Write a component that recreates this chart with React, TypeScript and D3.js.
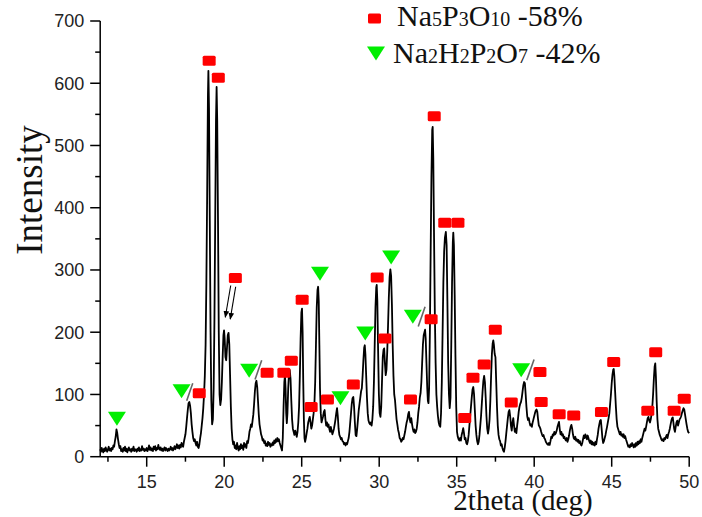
import React from "react";
import * as d3 from "d3";

const W = 702;
const H = 517;

const xTicks = [15, 20, 25, 30, 35, 40, 45, 50];
const xMinor = [12.5, 17.5, 22.5, 27.5, 32.5, 37.5, 42.5, 47.5];
const yTicks = [0, 100, 200, 300, 400, 500, 600, 700];
const yMinor = [50, 150, 250, 350, 450, 550, 650];

// XRD pattern: [2theta, intensity]
const pattern: [number, number][] = [
  [12.0,12],[12.05,8],[12.1,14],[12.15,10],[12.2,7],[12.25,13],[12.3,9],[12.35,15],[12.4,11],[12.45,8],[12.5,12],[12.55,16],[12.6,10],[12.65,13],[12.7,9],[12.75,14],[12.8,12],[12.85,18],[12.9,16],[12.95,25],[13.0,32],[13.05,44],[13.1,38],[13.15,28],[13.2,20],[13.25,14],[13.3,17],[13.35,9],[13.4,12],[13.45,8],[13.5,14],[13.55,10],[13.6,16],[13.65,9],[13.7,13],[13.75,7],[13.8,11],[13.85,15],[13.9,10],[13.95,12],
  [14.0,8],[14.05,13],[14.1,10],[14.15,16],[14.2,9],[14.25,12],[14.3,11],[14.35,8],[14.4,13],[14.45,10],[14.5,15],[14.55,9],[14.6,12],[14.65,10],[14.7,17],[14.75,11],[14.8,13],[14.85,9],[14.9,12],[14.95,10],[15.0,14],[15.05,9],[15.1,12],[15.15,18],[15.2,11],[15.25,15],[15.3,10],[15.35,13],[15.4,9],[15.45,16],[15.5,12],[15.55,17],[15.6,10],[15.65,14],[15.7,12],[15.75,19],[15.8,13],[15.85,11],[15.9,15],[15.95,10],
  [16.0,13],[16.05,9],[16.1,12],[16.15,15],[16.2,10],[16.25,14],[16.3,11],[16.35,9],[16.4,13],[16.45,10],[16.5,12],[16.55,16],[16.6,11],[16.65,14],[16.7,10],[16.75,13],[16.8,17],[16.85,12],[16.9,15],[16.95,20],[17.0,14],[17.05,18],[17.1,13],[17.15,19],[17.2,15],[17.25,22],[17.3,18],[17.35,16],[17.4,24],[17.45,30],[17.5,36],[17.55,48],[17.6,62],[17.65,75],[17.7,86],[17.75,88],[17.8,82],[17.85,70],[17.9,52],[17.95,40],
  [18.0,30],[18.05,25],[18.1,28],[18.15,22],[18.2,18],[18.25,24],[18.3,16],[18.35,14],[18.4,20],[18.45,30],[18.5,38],[18.55,50],[18.6,62],[18.65,78],[18.7,100],[18.75,130],[18.8,180],[18.85,280],[18.9,420],[18.95,580],[18.98,620],[19.02,560],[19.07,380],[19.12,200],[19.17,90],[19.22,52],[19.27,60],[19.32,110],[19.37,220],[19.42,380],[19.47,540],[19.51,594],[19.55,540],[19.6,380],[19.65,200],[19.7,100],[19.75,83],[19.8,92],[19.85,120],[19.9,160],[19.95,195],[19.99,203],
  [20.03,190],[20.08,160],[20.13,155],[20.18,175],[20.23,195],[20.28,199],[20.33,180],[20.38,130],[20.43,80],[20.48,45],[20.53,28],[20.58,20],[20.63,24],[20.68,14],[20.73,18],[20.78,12],[20.83,22],[20.88,15],[20.93,10],[20.98,17],[21.03,12],[21.08,20],[21.13,14],[21.18,18],[21.23,11],[21.28,22],[21.33,16],[21.38,20],[21.43,14],[21.48,25],[21.53,22],[21.58,30],[21.63,40],[21.68,45],[21.73,52],[21.78,48],[21.83,58],[21.88,68],[21.93,85],[21.98,105],
  [22.03,118],[22.08,122],[22.13,112],[22.18,90],[22.23,68],[22.28,52],[22.33,44],[22.38,36],[22.43,32],[22.48,26],[22.53,28],[22.58,22],[22.63,25],[22.68,18],[22.73,21],[22.78,17],[22.83,24],[22.88,19],[22.93,22],[22.98,16],[23.03,20],[23.08,18],[23.13,23],[23.18,19],[23.23,26],[23.28,22],[23.33,28],[23.38,24],[23.43,30],[23.48,25],[23.53,28],[23.58,22],[23.63,18],[23.68,14],[23.73,10],[23.78,30],[23.83,80],[23.88,120],[23.92,131],[23.96,110],
  [24.0,70],[24.04,54],[24.08,70],[24.13,110],[24.18,135],[24.23,139],[24.28,125],[24.33,90],[24.38,60],[24.43,45],[24.48,40],[24.53,35],[24.58,42],[24.63,38],[24.68,32],[24.73,40],[24.78,55],[24.83,80],[24.88,130],[24.93,190],[24.98,232],[25.02,238],[25.06,200],[25.1,120],[25.14,60],[25.18,30],[25.22,24],[25.27,30],[25.32,38],[25.37,45],[25.42,55],[25.47,60],[25.52,64],[25.57,55],[25.62,45],[25.67,50],[25.72,60],[25.77,70],[25.82,85],[25.87,120],[25.92,180],[25.97,240],
  [26.02,268],[26.06,273],[26.1,250],[26.14,180],[26.18,110],[26.23,70],[26.28,55],[26.33,60],[26.38,65],[26.43,72],[26.48,75],[26.53,60],[26.58,50],[26.63,55],[26.68,48],[26.73,52],[26.78,45],[26.83,40],[26.88,48],[26.93,42],[26.98,36],[27.03,40],[27.08,45],[27.13,52],[27.18,60],[27.23,70],[27.28,78],[27.33,65],[27.38,45],[27.43,35],[27.48,32],[27.53,28],[27.58,30],[27.63,25],[27.68,24],[27.73,20],[27.78,22],[27.83,18],[27.88,22],[27.93,20],[27.98,25],
  [28.03,30],[28.08,40],[28.13,55],[28.18,70],[28.23,85],[28.28,94],[28.33,96],[28.38,80],[28.43,55],[28.48,35],[28.53,33],[28.58,45],[28.63,60],[28.68,75],[28.73,85],[28.78,95],[28.83,105],[28.88,110],[28.93,130],[28.98,155],[29.03,175],[29.07,179],[29.11,165],[29.16,130],[29.21,95],[29.26,70],[29.31,58],[29.36,54],[29.41,52],[29.46,55],[29.51,50],[29.56,60],[29.61,80],[29.66,120],[29.71,180],[29.76,240],[29.81,272],[29.84,276],[29.88,250],[29.93,170],[29.98,100],
  [30.03,70],[30.08,64],[30.13,80],[30.18,120],[30.23,160],[30.28,172],[30.32,174],[30.37,150],[30.42,131],[30.47,140],[30.52,170],[30.57,210],[30.62,255],[30.67,288],[30.72,301],[30.77,290],[30.82,245],[30.87,180],[30.92,130],[30.97,100],[31.02,91],[31.07,75],[31.12,60],[31.17,52],[31.22,43],[31.27,38],[31.32,30],[31.37,28],[31.42,24],[31.47,26],[31.52,30],[31.57,28],[31.62,34],[31.67,40],[31.72,48],[31.77,55],[31.82,60],[31.87,68],[31.92,72],[31.97,60],
  [32.02,55],[32.07,62],[32.12,52],[32.17,45],[32.22,40],[32.27,44],[32.32,38],[32.37,40],[32.42,45],[32.47,55],[32.52,70],[32.57,80],[32.62,95],[32.67,102],[32.72,120],[32.77,150],[32.82,180],[32.87,195],[32.92,200],[32.96,204],[33.0,190],[33.05,150],[33.1,110],[33.14,90],[33.18,86],[33.22,110],[33.27,200],[33.32,330],[33.37,450],[33.42,525],[33.45,530],[33.49,480],[33.54,350],[33.59,230],[33.64,150],[33.69,100],[33.74,80],[33.79,65],[33.84,55],[33.89,50],[33.94,48],[33.99,70],
  [34.04,120],[34.09,200],[34.14,280],[34.19,330],[34.24,352],[34.3,361],[34.35,340],[34.4,250],[34.45,150],[34.5,100],[34.55,78],[34.6,95],[34.65,180],[34.7,280],[34.75,345],[34.78,360],[34.82,340],[34.87,260],[34.92,160],[34.97,80],[35.02,40],[35.07,32],[35.12,28],[35.17,26],[35.22,30],[35.27,26],[35.32,35],[35.37,40],[35.42,46],[35.47,38],[35.52,28],[35.57,30],[35.62,22],[35.67,20],[35.72,25],[35.77,35],[35.82,50],[35.87,65],[35.92,80],[35.97,95],
  [36.02,108],[36.07,112],[36.12,100],[36.17,75],[36.22,50],[36.27,35],[36.32,25],[36.37,20],[36.42,24],[36.47,35],[36.52,50],[36.57,65],[36.62,85],[36.67,105],[36.72,122],[36.77,130],[36.82,120],[36.87,95],[36.92,65],[36.97,45],[37.02,37],[37.07,45],[37.12,60],[37.17,90],[37.22,130],[37.27,165],[37.32,182],[37.36,187],[37.4,180],[37.45,165],[37.5,160],[37.55,120],[37.6,80],[37.65,50],[37.7,35],[37.75,28],[37.8,25],[37.85,18],[37.9,20],[37.95,14],
  [38.0,10],[38.05,8],[38.1,15],[38.15,25],[38.2,38],[38.25,50],[38.3,62],[38.35,72],[38.4,75],[38.45,65],[38.5,50],[38.55,42],[38.6,55],[38.65,62],[38.7,50],[38.75,40],[38.8,45],[38.85,38],[38.9,50],[38.95,60],[39.0,72],[39.05,80],[39.1,85],[39.15,88],[39.2,95],[39.25,105],[39.3,115],[39.35,120],[39.4,118],[39.45,100],[39.5,80],[39.55,65],[39.6,59],[39.65,62],[39.7,55],[39.75,50],[39.8,52],[39.85,48],[39.9,55],[39.95,60],
  [40.0,65],[40.05,70],[40.1,74],[40.15,76],[40.2,72],[40.25,60],[40.3,50],[40.35,48],[40.4,45],[40.45,40],[40.5,36],[40.55,33],[40.6,35],[40.65,30],[40.7,28],[40.75,24],[40.8,22],[40.85,20],[40.9,19],[40.95,22],[41.0,19],[41.05,25],[41.1,32],[41.15,30],[41.2,36],[41.25,34],[41.3,40],[41.35,36],[41.4,38],[41.45,42],[41.5,48],[41.55,52],[41.6,56],[41.65,44],[41.7,36],[41.75,40],[41.8,34],[41.85,36],[41.9,30],[41.95,32],
  [42.0,28],[42.05,26],[42.1,30],[42.15,24],[42.2,28],[42.25,34],[42.3,42],[42.35,48],[42.4,51],[42.45,45],[42.5,36],[42.55,30],[42.6,28],[42.65,32],[42.7,26],[42.75,28],[42.8,24],[42.85,27],[42.9,22],[42.95,25],[43.0,20],[43.05,18],[43.1,22],[43.15,28],[43.2,34],[43.25,30],[43.3,36],[43.35,32],[43.4,28],[43.45,34],[43.5,30],[43.55,25],[43.6,22],[43.65,26],[43.7,20],[43.75,24],[43.8,19],[43.85,22],[43.9,18],[43.95,24],
  [44.0,20],[44.05,28],[44.1,35],[44.15,45],[44.2,52],[44.25,58],[44.3,59],[44.35,45],[44.4,30],[44.45,22],[44.5,25],[44.55,30],[44.6,35],[44.65,42],[44.7,48],[44.75,55],[44.8,62],[44.85,70],[44.9,85],[44.95,100],[45.0,118],[45.05,132],[45.1,140],[45.13,141],[45.17,130],[45.22,105],[45.27,80],[45.32,60],[45.37,48],[45.42,44],[45.47,40],[45.52,36],[45.57,40],[45.62,34],[45.67,36],[45.72,32],[45.77,36],[45.82,30],[45.87,33],[45.92,28],[45.97,24],
  [46.02,20],[46.07,16],[46.12,18],[46.17,15],[46.22,20],[46.27,17],[46.32,22],[46.37,18],[46.42,15],[46.47,20],[46.52,16],[46.57,22],[46.62,18],[46.67,24],[46.72,20],[46.77,25],[46.82,22],[46.87,28],[46.92,24],[46.97,30],[47.02,35],[47.07,40],[47.12,45],[47.17,42],[47.22,48],[47.27,55],[47.32,62],[47.37,64],[47.42,58],[47.47,55],[47.52,60],[47.57,68],[47.62,80],[47.67,100],[47.72,125],[47.77,145],[47.81,150],[47.85,130],[47.9,90],[47.95,60],
  [48.0,45],[48.05,40],[48.1,35],[48.15,32],[48.2,28],[48.25,26],[48.3,28],[48.35,25],[48.4,30],[48.45,28],[48.5,32],[48.55,35],[48.6,30],[48.65,36],[48.7,40],[48.75,45],[48.8,52],[48.85,58],[48.9,62],[48.94,63],[48.98,55],[49.03,45],[49.08,40],[49.13,48],[49.18,55],[49.23,58],[49.28,50],[49.33,55],[49.38,60],[49.43,62],[49.48,65],[49.53,70],[49.58,74],[49.63,78],[49.68,76],[49.73,68],[49.78,60],[49.83,52],[49.88,45],[49.93,40],[50.0,38],
];

// Na5P3O10 markers (red squares): [2theta, intensity]
const na5Markers: [number, number][] = [
  [18.39,102],[19.03,636],[19.62,609],[20.72,287],[22.77,135],[23.85,135],[24.33,154],[25.03,252],[25.61,80],[26.66,92],[28.33,116],[29.87,288],[30.37,190],[32.02,92],[33.35,221],[33.55,547],[34.23,376],[35.08,376],[35.52,62],[36.05,127],[36.77,148],[37.49,204],[38.52,87],[40.37,136],[40.45,88],[41.61,68],[42.55,66],[44.34,72],[45.13,152],[47.33,74],[47.84,168],[49.03,74],[49.68,93],
];

// Na2H2P2O7 markers (green triangles): [2theta, intensity]
const na2Markers: [number, number][] = [
  [13.08,61],[17.25,105],[21.61,138],[26.18,294],[27.5,94],[29.1,198],[30.77,320],[32.17,225],[39.16,139],
];

// grey "/" separators: [x1, y1, x2, y2]
const slashes: [number, number, number, number][] = [
  [17.58,90,17.97,118],[21.99,124,22.42,155],[32.52,209,32.96,241],[39.52,123,39.99,156],
];

// arrows: [x1, y1, x2, y2]
const arrows: [number, number, number, number][] = [
  [20.42,275,20.07,224],[20.74,273,20.39,221],
];

export default function App() {
  const x = d3.scaleLinear().domain([12, 50]).range([100.2, 689.2]);
  const y = d3.scaleLinear().domain([0, 700]).range([456.7, 21]);
  const line = d3.line<[number, number]>().x((d) => x(d[0])).y((d) => y(d[1]));
  const axisFont = "'Liberation Sans', Arial, sans-serif";
  const serif = "'Liberation Serif', 'Times New Roman', serif";
  const x0 = x(12);
  const y0 = y(0);
  const sqW = 13, sqH = 10;
  const triW = 18, triH = 14;
  const tri = (cx: number, cy: number) =>
    `M${cx - triW / 2},${cy - triH / 2}L${cx + triW / 2},${cy - triH / 2}L${cx},${cy + triH / 2}Z`;

  return (
    <svg width={W} height={H} style={{ position: "absolute", left: 0, top: 0, background: "#fff" }}>
      <defs>
        <marker id="ah" viewBox="0 0 10 10" refX="9" refY="5" markerWidth="7" markerHeight="7" orient="auto-start-reverse" markerUnits="userSpaceOnUse">
          <path d="M0,1L10,5L0,9Z" fill="#000" />
        </marker>
      </defs>
      {/* data line */}
      <path d={line(pattern) || ""} fill="none" stroke="#000" strokeWidth={1.8} strokeLinejoin="round" />

      {/* slashes */}
      {slashes.map((s, i) => (
        <line key={"s" + i} x1={x(s[0])} y1={y(s[1])} x2={x(s[2])} y2={y(s[3])} stroke="#666" strokeWidth={1.6} />
      ))}
      {/* arrows */}
      {arrows.map((a, i) => (
        <line key={"a" + i} x1={x(a[0])} y1={y(a[1])} x2={x(a[2])} y2={y(a[3])} stroke="#000" strokeWidth={1.1} markerEnd="url(#ah)" />
      ))}

      {/* markers */}
      {na5Markers.map((m, i) => (
        <rect key={"r" + i} x={x(m[0]) - sqW / 2} y={y(m[1]) - sqH / 2} width={sqW} height={sqH} rx={1.5} fill="#ff0000" />
      ))}
      {na2Markers.map((m, i) => (
        <path key={"t" + i} d={tri(x(m[0]), y(m[1]))} fill="#00ee00" />
      ))}

      {/* axes */}
      <line x1={x0} y1={y(700)} x2={x0} y2={y0} stroke="#000" strokeWidth={1.5} />
      <line x1={x0} y1={y0} x2={x(50)} y2={y0} stroke="#000" strokeWidth={1.5} />
      {yTicks.map((t) => (
        <g key={"yt" + t}>
          <line x1={x0 - 10} x2={x0} y1={y(t)} y2={y(t)} stroke="#000" strokeWidth={1.5} />
          <text x={x0 - 16} y={y(t)} dy="0.36em" textAnchor="end" fontFamily={axisFont} fontSize={18} fill="#222">{t}</text>
        </g>
      ))}
      {yMinor.map((t) => (
        <line key={"ym" + t} x1={x0 - 5} x2={x0} y1={y(t)} y2={y(t)} stroke="#000" strokeWidth={1.5} />
      ))}
      {xTicks.map((t) => (
        <g key={"xt" + t}>
          <line x1={x(t)} x2={x(t)} y1={y0} y2={y0 + 10} stroke="#000" strokeWidth={1.5} />
          <text x={x(t)} y={488} textAnchor="middle" fontFamily={axisFont} fontSize={18} fill="#222">{t}</text>
        </g>
      ))}
      {xMinor.map((t) => (
        <line key={"xm" + t} x1={x(t)} x2={x(t)} y1={y0} y2={y0 + 5} stroke="#000" strokeWidth={1.5} />
      ))}

      {/* axis titles */}
      <text transform="translate(42,190) rotate(-90)" textAnchor="middle" fontFamily={serif} fontSize={37} fill="#111">Intensity</text>
      <text x={523} y={510} textAnchor="middle" fontFamily={serif} fontSize={29} fill="#111">2theta (deg)</text>

      {/* legend */}
      <rect x={368} y={13.5} width={sqW} height={sqH} rx={1.5} fill="#ff0000" />
      <text x={397} y={26} fontFamily={serif} fontSize={30} fill="#111">
        Na<tspan fontSize={20}>5</tspan>P<tspan fontSize={20}>3</tspan>O<tspan fontSize={20}>10</tspan> -58%
      </text>
      <path d={tri(376, 53.5)} fill="#00ee00" />
      <text x={393} y={63} fontFamily={serif} fontSize={30} fill="#111">
        Na<tspan fontSize={20}>2</tspan>H<tspan fontSize={20}>2</tspan>P<tspan fontSize={20}>2</tspan>O<tspan fontSize={20}>7</tspan> -42%
      </text>
    </svg>
  );
}
